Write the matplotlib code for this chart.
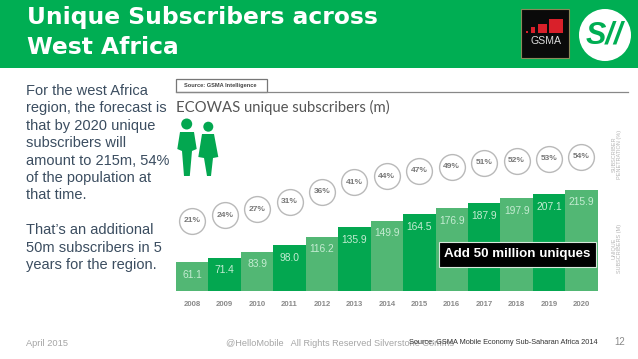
import matplotlib
matplotlib.use("Agg")
import matplotlib.pyplot as plt
from matplotlib.patches import Rectangle, Circle, Polygon

W, H = 638, 359

years = [2008, 2009, 2010, 2011, 2012, 2013, 2014, 2015, 2016, 2017, 2018, 2019, 2020]
subscribers = [61.1, 71.4, 83.9, 98.0, 116.2, 135.9, 149.9, 164.5, 176.9, 187.9, 197.9, 207.1, 215.9]
penetration = [21, 24, 27, 31, 36, 41, 44, 47, 49, 51, 52, 53, 54]

title_lines = ["Unique Subscribers across", "West Africa"]
body_lines = ["For the west Africa", "region, the forecast is", "that by 2020 unique", "subscribers will",
              "amount to 215m, 54%", "of the population at", "that time."]
body_lines2 = ["That\u2019s an additional", "50m subscribers in 5", "years for the region."]

GREEN = "#00ae53"
BAR_DARK = "#03a750"
BAR_LIGHT = "#52b774"
BODY = "#3b4d60"
SANS = ["Liberation Sans", "DejaVu Sans"]


def px_axes(fig, z):
    # whole figure axes in reference pixels, y going down
    ax = fig.add_axes([0, 0, 1, 1], zorder=z)
    ax.set_xlim(0, W)
    ax.set_ylim(H, 0)
    ax.axis("off")
    return ax


def box_axes(fig, left, right, top, bottom, z):
    ax = fig.add_axes([left / W, 1 - bottom / H, (right - left) / W, (bottom - top) / H], zorder=z)
    ax.patch.set_alpha(0)
    for s in ax.spines.values():
        s.set_visible(False)
    return ax


fig = plt.figure(figsize=(W / 100, H / 100), dpi=100, facecolor="white")
bg = px_axes(fig, 0)

# header band
bg.add_patch(Rectangle((0, 0), W, 68, color=GREEN, lw=0))
bg.text(27, 24, title_lines[0], color="white", fontsize=16.8, fontweight="bold", family="DejaVu Sans", va="baseline")
bg.text(27, 53.5, title_lines[1], color="white", fontsize=16.8, fontweight="bold", family="DejaVu Sans", va="baseline")

# logos
bg.add_patch(Rectangle((521, 9), 48, 49, facecolor="#0a0a0a", edgecolor="#8a8a5a", lw=0.8))
for x, top_y, w in [(526, 31, 2), (530.7, 27, 4.5), (537.7, 24, 9), (549, 19, 14)]:
    bg.add_patch(Rectangle((x, top_y), w, 33 - top_y, color="#d9202a", lw=0))
bg.text(546, 41, "GSMA", color="#dddddd", fontsize=7.6, ha="center", va="center", family=SANS)
bg.add_patch(Circle((605, 35), 26, color="white", lw=0))
bg.text(604, 36, "S//", color=GREEN, fontsize=22, fontweight="bold", fontstyle="italic", family=SANS,
        ha="center", va="center")

# left column text
for i, line in enumerate(body_lines):
    bg.text(26, 91 + i * 17.4, line, color=BODY, fontsize=10.5, family=SANS, va="center")
for i, line in enumerate(body_lines2):
    bg.text(26, 230 + i * 17.6, line, color=BODY, fontsize=10.5, family=SANS, va="center")

# infographic header
bg.add_patch(Rectangle((176, 79), 91, 13, facecolor="white", edgecolor="#777777", lw=0.9))
bg.plot([176, 628], [92, 92], color="#888888", lw=0.9)
bg.text(184, 85.8, "Source: GSMA Intelligence", color="#444444", fontsize=4.1, fontweight="bold", family=SANS, va="center")
bg.text(176, 107, "ECOWAS unique subscribers (m)", color="#565656", fontsize=10.7, family=["Lato", "DejaVu Sans"], va="center")

# the two people
bg.add_patch(Circle((186.7, 124), 5.5, color=BAR_DARK, lw=0))
bg.add_patch(Polygon([(180, 132), (194, 132), (196.7, 149), (192, 151), (189.8, 176), (184, 176), (182, 151), (177.3, 149)],
                     color=BAR_DARK, lw=0))
bg.add_patch(Circle((208.3, 126.7), 5, color=BAR_DARK, lw=0))
bg.add_patch(Polygon([(202, 134), (214, 134), (218.3, 157), (213, 158), (211, 176), (207, 176), (204, 158), (198.3, 157)],
                     color=BAR_DARK, lw=0))

bg.text(617, 154, "SUBSCRIBER\nPENETRATION (%)", color="#b5b5b5", fontsize=4.0, rotation=90, ha="center", va="center",
        family=SANS, linespacing=1.0)
bg.text(617, 248, "UNIQUE\nSUBSCRIBERS (M)", color="#b5b5b5", fontsize=4.0, rotation=90, ha="center", va="center",
        family=SANS, linespacing=1.0)

# footer
bg.text(26, 343, "April 2015", color="#a5a5a5", fontsize=6.7, family=SANS, va="center")
bg.text(226, 343, "@HelloMobile   All Rights Reserved Silverstone Comms", color="#a5a5a5", fontsize=6.6,
        family=SANS, va="center")
bg.text(598, 342.5, "Source: GSMA Mobile Economy Sub-Saharan Africa 2014", color="#333333", fontsize=5.35,
        family=SANS, va="center", ha="right")
bg.text(620, 342, "12", color="#8a8a8a", fontsize=6.9, family=SANS, va="center", ha="center")

# subscriber bars, 0 to 215.9 is 101 px
bar_ax = box_axes(fig, 176, 597.7, 190, 291, 1)
colors = [BAR_LIGHT if i % 2 == 0 else BAR_DARK for i in range(len(years))]
bar_ax.bar(years, subscribers, width=1.0, color=colors, lw=0)
bar_ax.set_xlim(years[0] - 0.5, years[-1] + 0.5)
bar_ax.set_ylim(0, subscribers[-1])
bar_ax.set_xticks(years, labels=[str(y) for y in years])
bar_ax.set_yticks([])
bar_ax.tick_params(axis="x", length=0, pad=7, labelsize=5.6, labelcolor="#8a8a8a")
for lab in bar_ax.get_xticklabels():
    lab.set_family(SANS)
    lab.set_fontweight("bold")
for y, v in zip(years, subscribers):
    bar_ax.annotate(f"{v:.1f}", (y, v), xytext=(0, -9), textcoords="offset points", ha="center", va="center",
                    color="#c4ecd2", fontsize=7.4, family=SANS)

# penetration circles, 21% sits at y=221 and 54% at y=157
pen_ax = box_axes(fig, 176, 597.7, 140, 240, 2)
pen_ax.scatter(years, penetration, s=345, facecolor="white", edgecolor="#b9b9b9", linewidth=1.0, clip_on=False)
pen_ax.set_xlim(years[0] - 0.5, years[-1] + 0.5)
pen_ax.set_ylim(21 - 19 / 1.94, 21 + 81 / 1.94)
pen_ax.axis("off")
for y, p in zip(years, penetration):
    pen_ax.text(y, p, f"{p}%", ha="center", va="center", color="#777777", fontsize=6, fontweight="bold", family=SANS)

# callout on top of the bars
top = px_axes(fig, 3)
top.add_patch(Rectangle((439, 242), 157, 25, facecolor="black", edgecolor="#d8e8dc", lw=0.8))
top.text(517.5, 254.5, "Add 50 million uniques", color="white", fontsize=9.6, fontweight="bold", family=SANS,
         ha="center", va="center")

fig.savefig("out.png", dpi=100)
